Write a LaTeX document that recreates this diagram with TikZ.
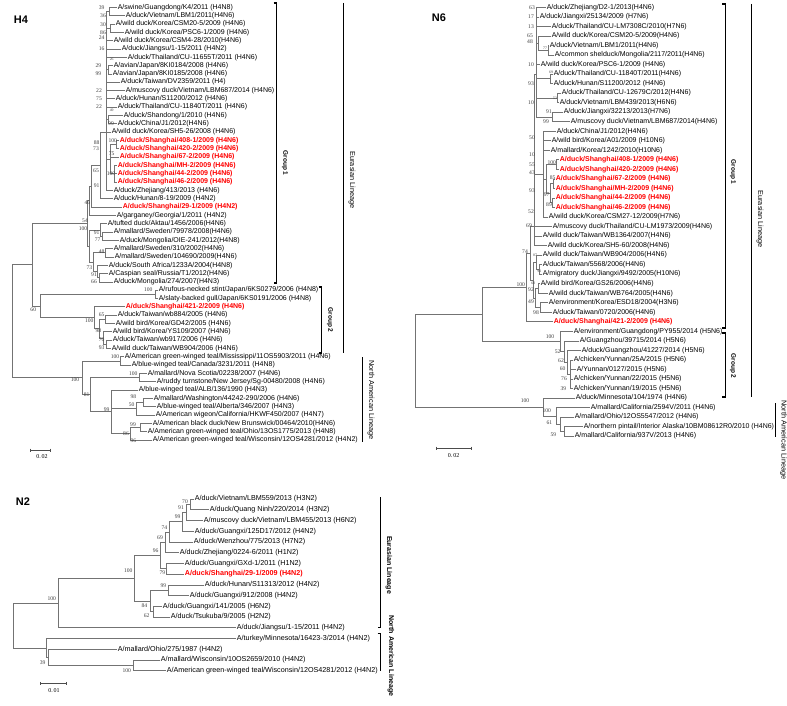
\documentclass[tikz,border=0pt]{standalone}
\usepackage{fontspec}
\usetikzlibrary{calc}
\setmainfont{Liberation Sans}
\newfontfamily\bsfont{Liberation Serif}
\newcounter{bsn}
\newcommand\HY[1]{7.3+(#1-1)*8.32}
\newcommand\NY[1]{7.3+(#1-1)*9.53}
\newcommand\MY[1]{499+(#1-1)*10.73}
\newcommand\hleaf[3]{\node[leaf] (h#1) at (#2,{\HY{#1}}) {#3};}
\newcommand\hleafr[3]{\node[leafr] (h#1) at (#2,{\HY{#1}}) {#3};}
\newcommand\nleaf[3]{\node[leaf] (n#1) at (#2,{\NY{#1}}) {#3};}
\newcommand\nleafr[3]{\node[leafr] (n#1) at (#2,{\NY{#1}}) {#3};}
\newcommand\mleaf[3]{\node[leafm] (m#1) at (#2,{\MY{#1}}) {#3};}
\newcommand\mleafr[3]{\node[leafmr] (m#1) at (#2,{\MY{#1}}) {#3};}
\newcommand\hco[3]{\coordinate (#1) at (#2,{\HY{#3}});}
\newcommand\nco[3]{\coordinate (#1) at (#2,{\NY{#3}});}
\newcommand\mco[3]{\coordinate (#1) at (#2,{\MY{#3}});}
\newcommand\bsv[3]{\stepcounter{bsn}\node[bsl] (b\thebsn) at (#1,#2) {#3};}
\newcommand\bst[3]{\stepcounter{bsn}\node[bsl,font=\bsfont\fontsize{3.8}{4}\selectfont] (b\thebsn) at (#1,#2) {#3};}
\newcommand\edges[2]{\foreach \cc in {#2}{\draw[br] (#1) |- (\cc);}}
\begin{document}
\begin{tikzpicture}[x=1pt,y=-1pt,
  br/.style={draw=black!55,line width=0.65pt},
  leaf/.style={anchor=west,inner xsep=0.6pt,inner ysep=0pt,font=\fontsize{7}{8}\selectfont},
  leafr/.style={leaf,text=red,font=\bfseries\fontsize{7}{8}\selectfont},
  leafm/.style={leaf,font=\fontsize{7.2}{8}\selectfont},
  leafmr/.style={leafm,text=red,font=\bfseries\fontsize{7.2}{8}\selectfont},
  bsl/.style={inner sep=0pt,font=\bsfont\fontsize{5.6}{6}\selectfont,text=black!75},
  ttl/.style={font=\bfseries\fontsize{11}{12}\selectfont},
  grp/.style={font=\bfseries\fontsize{6.5}{7}\selectfont,rotate=-90,inner sep=0pt},
  lng/.style={font=\fontsize{7.3}{8}\selectfont,rotate=-90,inner sep=0pt},
  lngb/.style={font=\bfseries\fontsize{7}{8}\selectfont,rotate=-90,inner sep=0pt},
  brk/.style={draw=black,line width=1.1pt},
  lin/.style={draw=black,line width=0.7pt},
  sbar/.style={draw=black!70,line width=0.6pt},
  sbl/.style={inner sep=0pt,font=\bsfont\fontsize{6}{7}\selectfont}]
\useasboundingbox (0,0) rectangle (787,706);
\fill[white] (0,0) rectangle (787,706);
% ================= H4 =================
\node[ttl] (tH4) at (21,20) {H4};
\hleaf{1}{117}{A/swine/Guangdong/K4/2011 (H4N8)}
\hleaf{2}{125}{A/duck/Vietnam/LBM1/2011(H4N6)}
\hleaf{3}{115}{A/wild duck/Korea/CSM20-5/2009 (H4N6)}
\hleaf{4}{124}{A/wild duck/Korea/PSC6-1/2009 (H4N6)}
\hleaf{5}{113}{A/wild duck/Korea/CSM4-28/2010(H4N6)}
\hleaf{6}{121}{A/duck/Jiangsu/1-15/2011 (H4N2)}
\hleaf{7}{127}{A/duck/Thailand/CU-11655T/2011 (H4N6)}
\hleaf{8}{113}{A/avian/Japan/8KI0184/2008 (H4N6)}
\hleaf{9}{112}{A/avian/Japan/8KI0185/2008 (H4N6)}
\hleaf{10}{120}{A/duck/Taiwan/DV2359/2011 (H4)}
\hleaf{11}{125}{A/muscovy duck/Vietnam/LBM687/2014 (H4N6)}
\hleaf{12}{115}{A/duck/Hunan/S11200/2012 (H4N6)}
\hleaf{13}{117}{A/duck/Thailand/CU-11840T/2011 (H4N6)}
\hleaf{14}{123}{A/duck/Shandong/1/2010 (H4N6)}
\hleaf{15}{117}{A/duck/China/J1/2012(H4N6)}
\hleaf{16}{111}{A/wild duck/Korea/SH5-26/2008 (H4N6)}
\hleafr{17}{119}{A/duck/Shanghai/408-1/2009 (H4N6)}
\hleafr{18}{119}{A/duck/Shanghai/420-2/2009 (H4N6)}
\hleafr{19}{119}{A/duck/Shanghai/67-2/2009 (H4N6)}
\hleafr{20}{117}{A/duck/Shanghai/MH-2/2009 (H4N6)}
\hleafr{21}{117}{A/duck/Shanghai/44-2/2009 (H4N6)}
\hleafr{22}{117}{A/duck/Shanghai/46-2/2009 (H4N6)}
\hleaf{23}{113}{A/duck/Zhejiang/413/2013 (H4N6)}
\hleaf{24}{113}{A/duck/Hunan/8-19/2009 (H4N2)}
\hleafr{25}{122}{A/duck/Shanghai/29-1/2009 (H4N2)}
\hleaf{26}{116}{A/garganey/Georgia/1/2011 (H4N2)}
\hleaf{27}{107}{A/tufted duck/Aktau/1456/2006(H4N6)}
\hleaf{28}{113}{A/mallard/Sweden/79978/2008(H4N6)}
\hleaf{29}{119}{A/duck/Mongolia/OIE-241/2012(H4N8)}
\hleaf{30}{113}{A/mallard/Sweden/310/2002(H4N6)}
\hleaf{31}{114}{A/mallard/Sweden/104690/2009(H4N6)}
\hleaf{32}{108}{A/duck/South Africa/1233A/2004(H4N8)}
\hleaf{33}{108}{A/Caspian seal/Russia/T1/2012(H4N6)}
\hleaf{34}{113}{A/duck/Mongolia/274/2007(H4N3)}
\hleaf{35}{158}{A/rufous-necked stint/Japan/6KS0279/2006 (H4N8)}
\hleaf{36}{158}{A/slaty-backed gull/Japan/6KS0191/2006 (H4N8)}
\hleafr{37}{125}{A/duck/Shanghai/421-2/2009 (H4N6)}
\hleaf{38}{117}{A/duck/Taiwan/wb884/2005 (H4N6)}
\hleaf{39}{115}{A/wild bird/Korea/GD42/2005 (H4N6)}
\hleaf{40}{112}{A/wild bird/Korea/YS109/2007 (H4N6)}
\hleaf{41}{112}{A/duck/Taiwan/wb917/2006 (H4N6)}
\hleaf{42}{111}{A/wild duck/Taiwan/WB904/2006 (H4N6)}
\hleaf{43}{124}{A/American green-winged teal/Mississippi/11OS5903/2011 (H4N6)}
\hleaf{44}{131}{A/blue-winged teal/Canada/3231/2011 (H4N8)}
\hleaf{45}{147}{A/mallard/Nova Scotia/02238/2007 (H4N6)}
\hleaf{46}{156}{A/ruddy turnstone/New Jersey/Sg-00480/2008 (H4N6)}
\hleaf{47}{138}{A/blue-winged teal/ALB/136/1990 (H4N3)}
\hleaf{48}{153}{A/mallard/Washington/44242-290/2006 (H4N6)}
\hleaf{49}{156}{A/blue-winged teal/Alberta/346/2007 (H4N3)}
\hleaf{50}{155}{A/American wigeon/California/HKWF450/2007 (H4N7)}
\hleaf{51}{152}{A/American black duck/New Brunswick/00464/2010(H4N6)}
\hleaf{52}{147}{A/American green-winged teal/Ohio/13OS1775/2013 (H4N8)}
\hleaf{53}{152}{A/American green-winged teal/Wisconsin/12OS4281/2012 (H4N2)}
% internal nodes
\hco{hp12}{109}{1.5}\hco{hp34}{110}{3.5}\hco{hp89}{108}{8.5}\hco{hp1415}{108}{14.5}
\hco{hp1718}{116}{17.5}\hco{hn20}{114}{21}\hco{hnSH}{110}{19.25}
\hco{hnU}{106}{16}\hco{hc91a}{100}{20}\hco{hc46}{91}{22.5}\hco{hc54}{89}{24.25}
\hco{hc77}{102}{28.5}\hco{hc91}{100}{27.75}\hco{hc48}{105}{30.5}\hco{hc66}{99}{33.5}
\hco{hc91b}{97}{32.75}\hco{hc73}{93}{31.625}\hco{hcB}{89}{29.69}\hco{hG1}{87}{26.97}
\hco{hJ}{155}{35.5}\hco{hp3839}{105}{38.5}\hco{hn70}{106}{41.5}\hco{hn98}{103}{40.75}
\hco{hT}{99}{39.625}\hco{hG2}{94}{38.31}\hco{hX}{40}{36.9}\hco{hE}{32}{31.94}
\hco{hp4344}{120}{43.5}\hco{hp4546}{139}{45.5}\hco{hp4849}{143}{48.5}\hco{hn50}{136}{49.25}
\hco{hp5152}{140}{51.5}\hco{hn99b}{130}{52.25}\hco{hn99}{111}{49.6}\hco{hn81}{90}{47.56}
\hco{hNA}{82}{45.53}\hco{hR}{12}{38.7}
\edges{hR}{hE,hNA}
\edges{hE}{hG1,hX}
\edges{hG1}{hc54,hcB}
\edges{hc54}{hc46,h26}
\edges{hc46}{hc91a,h25}
\edges{hc91a}{hnU,h24}
\edges{hnU}{hp12,hp34,h5,h6,h7,hp89,h10,h11,h12,h13,hp1415,h16,hnSH,h23}
\edges{hp12}{h1,h2}\edges{hp34}{h3,h4}\edges{hp89}{h8,h9}\edges{hp1415}{h14,h15}
\edges{hnSH}{hp1718,h19,hn20}\edges{hp1718}{h17,h18}\edges{hn20}{h20,h21,h22}
\edges{hcB}{hc91,hc73}\edges{hc91}{h27,hc77}\edges{hc77}{h28,h29}
\edges{hc73}{hc48,hc91b}\edges{hc48}{h30,h31}\edges{hc91b}{h32,hc66}\edges{hc66}{h33,h34}
\edges{hX}{hJ,hG2}\edges{hJ}{h35,h36}
\edges{hG2}{h37,hT}\edges{hT}{hp3839,hn98}\edges{hp3839}{h38,h39}\edges{hn98}{h40,hn70}\edges{hn70}{h41,h42}
\edges{hNA}{hp4344,hn81}\edges{hp4344}{h43,h44}
\edges{hn81}{hp4546,hn99}\edges{hp4546}{h45,h46}
\edges{hn99}{h47,hn50,hn99b}\edges{hn50}{hp4849,h50}\edges{hp4849}{h48,h49}
\edges{hn99b}{hp5152,h53}\edges{hp5152}{h51,h52}
% bootstrap H4
\bsv{101.7}{7.3}{39}\bsv{103}{15.7}{36}\bsv{103}{24.3}{30}\bsv{103}{32.3}{86}
\bsv{101.7}{37.5}{24}\bsv{101.7}{49}{16}\bst{111.7}{59.3}{26}\bsv{98.3}{65.7}{29}
\bsv{98.3}{74}{99}\bsv{99}{90.7}{22}\bsv{99}{99}{75}\bsv{99}{106.5}{22}
\bst{111.7}{110}{49}\bsv{111}{123.3}{99}\bsv{112.7}{141}{100}\bsv{96.7}{142.3}{88}
\bsv{96}{149}{73}\bsv{111.7}{153.3}{75}\bsv{96}{170.7}{65}\bsv{111}{173.3}{100}
\bsv{96.7}{185.7}{91}\bsv{87.3}{202.3}{46}\bsv{85}{220.7}{54}\bsv{83}{228.3}{100}
\bsv{96.7}{232.3}{91}\bsv{97.7}{240}{77}\bsv{101.7}{251.3}{48}\bsv{89.3}{268}{73}
\bsv{94}{274.3}{91}\bsv{94}{282}{66}\bsv{148.3}{290}{100}\bsv{33.3}{309.3}{60}
\bsv{101.7}{315}{65}\bsv{89.3}{321}{100}\bsv{98.3}{330.7}{98}\bsv{101.7}{339.3}{70}
\bsv{101.7}{347.7}{93}\bsv{115}{356.7}{100}\bsv{133.3}{373.3}{100}\bsv{75}{380}{100}
\bsv{86.7}{395}{81}\bsv{133.3}{396.7}{98}\bsv{131.7}{404.3}{50}\bsv{106.7}{409.3}{99}
\bsv{133}{424.3}{99}\bsv{126}{433.3}{86}\bsv{133.3}{440.5}{96}
% scale bar H4
\coordinate (hs1) at (30,450);\coordinate (hs2) at (50,450);
\draw[sbar] (hs1) -- (hs2);\draw[sbar] ($(hs1)+(0,-1.5)$) -- ($(hs1)+(0,1.5)$);
\draw[sbar] ($(hs2)+(0,-1.5)$) -- ($(hs2)+(0,1.5)$);
\node[sbl] (hsl) at (42,457) {0.\,02};
% annotations H4
\draw[brk] (273.5,3) -- (276.7,3) -- (276.7,283) -- (273.5,283);
\node[grp] (hg1) at (285,163) {Group 1};
\draw[brk] (318.5,287) -- (321.7,287) -- (321.7,353) -- (318.5,353);
\node[grp] (hg2) at (330,320) {Group 2};
\draw[lin] (343,3) -- (343,353);
\node[lng] (hel) at (352,180) {Eurasian Lineage};
\draw[lin] (362,357) -- (362,442);
\node[lng] (hnl) at (371,400) {North American Lineage};
% ================= N6 =================
\node[ttl] (tN6) at (439,18) {N6};
\nleaf{1}{546}{A/duck/Zhejiang/D2-1/2013(H4N6)}
\nleaf{2}{539}{A/duck/Jiangxi/25134/2009 (H7N6)}
\nleaf{3}{551}{A/duck/Thailand/CU-LM7308C/2010(H7N6)}
\nleaf{4}{551}{A/wild duck/Korea/CSM20-5/2009(H4N6)}
\nleaf{5}{549}{A/duck/Vietnam/LBM1/2011(H4N6)}
\nleaf{6}{554}{A/common shelduck/Mongolia/2117/2011(H4N6)}
\nleaf{7}{540}{A/wild duck/Korea/PSC6-1/2009 (H4N6)}
\nleaf{8}{553}{A/duck/Thailand/CU-11840T/2011(H4N6)}
\nleaf{9}{553}{A/duck/Hunan/S11200/2012 (H4N6)}
\nleaf{10}{561}{A/duck/Thailand/CU-12679C/2012(H4N6)}
\nleaf{11}{559}{A/duck/Vietnam/LBM439/2013(H6N6)}
\nleaf{12}{563}{A/duck/Jiangxi/32213/2013(H7N6)}
\nleaf{13}{570}{A/muscovy duck/Vietnam/LBM687/2014(H4N6)}
\nleaf{14}{556}{A/duck/China/J1/2012(H4N6)}
\nleaf{15}{551}{A/wild bird/Korea/A01/2009 (H10N6)}
\nleaf{16}{550}{A/mallard/Korea/1242/2010(H10N6)}
\nleafr{17}{559}{A/duck/Shanghai/408-1/2009 (H4N6)}
\nleafr{18}{559}{A/duck/Shanghai/420-2/2009 (H4N6)}
\nleafr{19}{555}{A/duck/Shanghai/67-2/2009 (H4N6)}
\nleafr{20}{555}{A/duck/Shanghai/MH-2/2009 (H4N6)}
\nleafr{21}{555}{A/duck/Shanghai/44-2/2009 (H4N6)}
\nleafr{22}{555}{A/duck/Shanghai/46-2/2009 (H4N6)}
\nleaf{23}{548}{A/wild duck/Korea/CSM27-12/2009(H7N6)}
\nleaf{24}{552}{A/muscovy duck/Thailand/CU-LM1973/2009(H4N6)}
\nleaf{25}{542}{A/wild duck/Taiwan/WB1364/2007(H4N6)}
\nleaf{26}{547}{A/wild duck/Korea/SH5-60/2008(H4N6)}
\nleaf{27}{542}{A/wild duck/Taiwan/WB904/2006(H4N6)}
\nleaf{28}{542}{A/duck/Taiwan/5568/2006(H4N6)}
\nleaf{29}{542}{A/migratory duck/Jiangxi/9492/2005(H10N6)}
\nleaf{30}{540}{A/wild bird/Korea/GS26/2006(H4N6)}
\nleaf{31}{548}{A/wild duck/Taiwan/WB764/2005(H4N6)}
\nleaf{32}{548}{A/environment/Korea/ESD18/2004(H3N6)}
\nleaf{33}{552}{A/duck/Taiwan/0720/2006(H4N6)}
\nleafr{34}{553}{A/duck/Shanghai/421-2/2009 (H4N6)}
\nleaf{35}{573}{A/environment/Guangdong/PY955/2014 (H5N6)}
\nleaf{36}{579}{A/Guangzhou/39715/2014 (H5N6)}
\nleaf{37}{581}{A/duck/Guangzhou/41227/2014 (H5N6)}
\nleaf{38}{573}{A/chicken/Yunnan/25A/2015 (H5N6)}
\nleaf{39}{576}{A/Yunnan/0127/2015 (H5N6)}
\nleaf{40}{573}{A/chicken/Yunnan/22/2015 (H5N6)}
\nleaf{41}{573}{A/chicken/Yunnan/19/2015 (H5N6)}
\nleaf{42}{575}{A/duck/Minnesota/104/1974 (H4N6)}
\nleaf{43}{590}{A/mallard/California/2594V/2011 (H4N6)}
\nleaf{44}{574}{A/mallard/Ohio/12OS5547/2012 (H4N6)}
\nleaf{45}{583}{A/northern pintail/Interior Alaska/10BM08612R0/2010 (H4N6)}
\nleaf{46}{574}{A/mallard/California/937V/2013 (H4N6)}
\nco{nn77}{548}{5.5}\nco{nn65}{538}{4.75}\nco{nn69}{550}{8.5}\nco{nn53}{557}{10.5}
\nco{nn91}{552}{12.5}\nco{ncA}{536}{8}
\nco{np1718}{556}{17.5}\nco{nn85}{553}{19.5}\nco{nn89}{552}{21.5}\nco{nn97}{550}{20.5}
\nco{nSH}{546}{19}\nco{ncB}{543}{18.5}\nco{nG1}{534}{24}
\nco{nn91b}{539}{28.5}\nco{nn87}{536}{27.75}\nco{nn60}{538}{30.5}\nco{nn49}{540}{32.5}
\nco{nn92}{535}{31.5}\nco{nTW}{533}{29.625}\nco{nX}{530}{26.81}\nco{nEur}{526}{30.41}
\nco{nY}{570}{39.5}\nco{nn52}{567}{38.25}\nco{nna}{564}{37.125}\nco{nG2}{560}{36.06}
\nco{nEU}{482}{33.24}
\nco{nn59}{564}{45.5}\nco{nn61}{560}{44.75}\nco{nn100}{556}{43.875}\nco{nNA}{543}{42.94}
\nco{nR}{415}{38.09}
\edges{nR}{nEU,nNA}
\edges{nEU}{nEur,nG2}
\edges{nEur}{nX,n34}
\edges{nX}{nG1,nTW}
\edges{nG1}{ncA,ncB,n24,n25,n26}
\edges{ncA}{n1,n2,n3,nn65,n7,nn69,nn53,nn91}
\edges{nn65}{n4,nn77}\edges{nn77}{n5,n6}\edges{nn69}{n8,n9}\edges{nn53}{n10,n11}\edges{nn91}{n12,n13}
\edges{ncB}{n14,n15,n16,nSH,n23}
\edges{nSH}{np1718,nn97}\edges{np1718}{n17,n18}\edges{nn97}{nn85,nn89}
\edges{nn85}{n19,n20}\edges{nn89}{n21,n22}
\edges{nTW}{nn87,nn92}\edges{nn87}{n27,nn91b}\edges{nn91b}{n28,n29}
\edges{nn92}{nn60,nn49}\edges{nn60}{n30,n31}\edges{nn49}{n32,n33}
\edges{nG2}{n35,nna}\edges{nna}{n36,nn52}\edges{nn52}{n37,nY}\edges{nY}{n38,n39,n40,n41}
\edges{nNA}{n42,nn100}\edges{nn100}{n43,nn61}\edges{nn61}{n44,nn59}\edges{nn59}{n45,n46}
% bootstrap N6
\bsv{532}{7.3}{63}\bsv{531}{16.8}{17}\bsv{531}{26.4}{13}\bsv{530}{35.9}{65}
\bsv{530}{42}{48}\bst{545}{48.3}{77}\bsv{531}{64.5}{10}\bst{551}{72}{69}
\bsv{531}{83.5}{93}\bst{555}{98.4}{53}\bsv{531}{102.6}{10}\bsv{549}{112.1}{91}
\bsv{546}{121.7}{99}\bsv{532}{137.7}{50}\bsv{532}{154.3}{10}\bsv{532}{164.3}{55}
\bsv{532}{172.3}{43}\bsv{551.7}{162.3}{100}\bsv{552.7}{177.7}{85}\bsv{532}{191}{93}
\bsv{546.7}{195}{97}\bsv{549}{205}{89}\bsv{531}{211.7}{52}\bsv{529}{226}{69}
\bsv{525}{251.7}{74}\bst{535}{255}{87}\bst{539.3}{271.7}{91}\bst{533.3}{283.3}{60}
\bsv{520.7}{285}{100}\bsv{531}{289.3}{92}\bsv{531}{301.7}{49}\bsv{536}{312.7}{98}
\bsv{550}{336.7}{100}\bsv{557.7}{351.7}{52}\bsv{561}{361}{62}\bsv{562.7}{369}{60}
\bsv{564}{379}{76}\bsv{563.3}{388.3}{39}\bsv{525}{401}{100}\bsv{546.7}{410.7}{100}
\bsv{549.3}{422.3}{61}\bsv{553.3}{435}{59}
% scale bar N6
\coordinate (ns1) at (436,448);\coordinate (ns2) at (471,448);
\draw[sbar] (ns1) -- (ns2);\draw[sbar] ($(ns1)+(0,-1.5)$) -- ($(ns1)+(0,1.5)$);
\draw[sbar] ($(ns2)+(0,-1.5)$) -- ($(ns2)+(0,1.5)$);
\node[sbl] (nsl) at (453.5,456) {0.\,02};
% annotations N6
\draw[brk] (722,4) -- (725.2,4) -- (725.2,328) -- (722,328);
\node[grp] (ng1) at (733,172) {Group 1};
\draw[brk] (722,333) -- (725.2,333) -- (725.2,397) -- (722,397);
\node[grp] (ng2) at (733,366) {Group 2};
\draw[lin] (751,4) -- (751,397);
\node[lng] (nel) at (760,219) {Eurasian Lineage};
\draw[lin] (775,403) -- (775,437);
\node[lng] (nnl) at (783.5,440) {North American Lineage};
% ================= N2 =================
\node[ttl] (tN2) at (23,501.5) {N2};
\mleaf{1}{194}{A/duck/Vietnam/LBM559/2013 (H3N2)}
\mleaf{2}{209}{A/duck/Quang Ninh/220/2014 (H3N2)}
\mleaf{3}{203}{A/muscovy duck/Vietnam/LBM455/2013 (H6N2)}
\mleaf{4}{194}{A/duck/Guangxi/125D17/2012 (H4N2)}
\mleaf{5}{193}{A/duck/Wenzhou/775/2013 (H7N2)}
\mleaf{6}{179}{A/duck/Zhejiang/0224-6/2011 (H1N2)}
\mleaf{7}{184}{A/duck/Guangxi/GXd-1/2011 (H1N2)}
\mleafr{8}{184}{A/duck/Shanghai/29-1/2009 (H4N2)}
\mleaf{9}{204}{A/duck/Hunan/S11313/2012 (H4N2)}
\mleaf{10}{189}{A/duck/Guangxi/912/2008 (H4N2)}
\mleaf{11}{162}{A/duck/Guangxi/141/2005 (H6N2)}
\mleaf{12}{170}{A/duck/Tsukuba/9/2005 (H2N2)}
\mleaf{13}{236}{A/duck/Jiangsu/1-15/2011 (H4N2)}
\mleaf{14}{236}{A/turkey/Minnesota/16423-3/2014 (H4N2)}
\mleaf{15}{117}{A/mallard/Ohio/275/1987 (H4N2)}
\mleaf{16}{160}{A/mallard/Wisconsin/10OS2659/2010 (H4N2)}
\mleaf{17}{166}{A/American green-winged teal/Wisconsin/12OS4281/2012 (H4N2)}
\mco{mp70}{190}{1.5}\mco{mn91}{186}{2.25}\mco{mn99}{182}{3.125}\mco{mn74}{169}{4.06}
\mco{mn69}{165}{5.03}\mco{mn79}{166}{7.5}\mco{mn96}{160}{6.27}
\mco{mn99c}{168}{9.5}\mco{mn84}{153}{11.5}\mco{mnB}{150}{10.5}
\mco{mn100a}{134}{8.38}\mco{mn100b}{58}{10.69}
\mco{mn100d}{133}{16.5}\mco{mn39}{48}{15.75}\mco{mnNA}{46}{14.875}\mco{mR}{13}{12.78}
\edges{mR}{mn100b,mnNA}
\edges{mn100b}{mn100a,m13}
\edges{mn100a}{mn96,mnB}
\edges{mn96}{mn69,mn79}\edges{mn69}{mn74,m6}\edges{mn74}{mn99,m5}\edges{mn99}{mn91,m4}
\edges{mn91}{mp70,m3}\edges{mp70}{m1,m2}\edges{mn79}{m7,m8}
\edges{mnB}{mn99c,mn84}\edges{mn99c}{m9,m10}\edges{mn84}{m11,m12}
\edges{mnNA}{m14,mn39}\edges{mn39}{m15,mn100d}\edges{mn100d}{m16,m17}
% bootstrap N2
\bsv{185}{502}{70}\bsv{181}{507.3}{91}\bsv{177.7}{516.7}{99}\bsv{164.3}{527.3}{74}
\bsv{160}{537.7}{69}\bsv{155.7}{550.7}{96}\bsv{162.3}{572.7}{79}\bsv{128.3}{570.7}{100}
\bsv{163.3}{586}{99}\bsv{144.3}{605.7}{84}\bsv{146.7}{615.7}{62}\bsv{51.7}{598.3}{100}
\bsv{42.7}{662.3}{39}\bsv{126.7}{670.7}{100}
% scale bar N2
\coordinate (ms1) at (40.7,683.3);\coordinate (ms2) at (66.7,683.3);
\draw[sbar] (ms1) -- (ms2);\draw[sbar] ($(ms1)+(0,-1.5)$) -- ($(ms1)+(0,1.5)$);
\draw[sbar] ($(ms2)+(0,-1.5)$) -- ($(ms2)+(0,1.5)$);
\node[sbl] (msl) at (54,690.5) {0.\,01};
% annotations N2
\draw[lin] (380,497) -- (380,627) -- (377.5,627);
\node[lngb] (mel) at (389,565) {Eurasian Lineage};
\draw[lin] (377.5,633) -- (380,633) -- (380,671);
\node[lngb] (mnl) at (391,656) {North American Lineage};
\end{tikzpicture}
\end{document}
